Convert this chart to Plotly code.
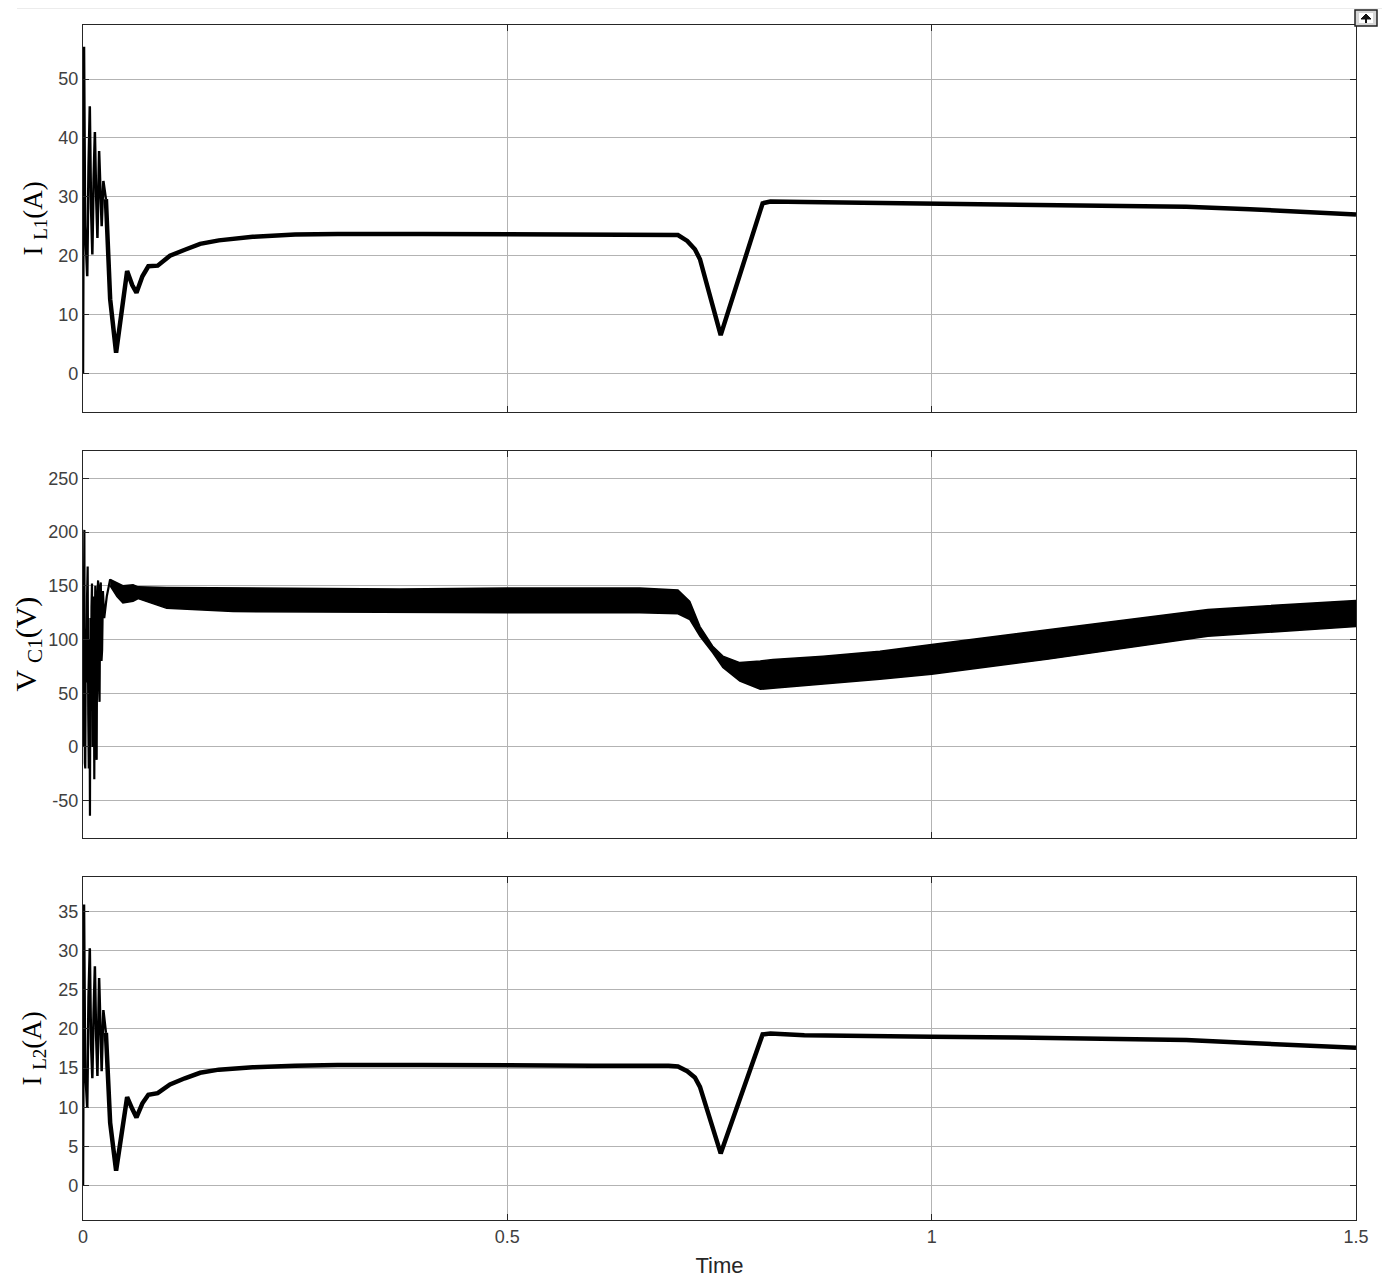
import plotly.graph_objects as go
from plotly.subplots import make_subplots

# ---------------- data ----------------
# I_L1 : initial oscillation
il1_spike_t = [0.0, 0.0012, 0.0025, 0.005, 0.0065, 0.008, 0.0095, 0.011, 0.0125, 0.014,
               0.0155, 0.017, 0.019, 0.0205, 0.022, 0.024, 0.027]
il1_spike = [0.0, 55.5, 25.0, 16.5, 35.0, 45.4, 28.0, 20.2, 33.0, 41.0,
             30.0, 23.0, 37.8, 30.0, 25.0, 32.7, 29.6]
# I_L1 : remaining trace
il1_t = [0.027, 0.032, 0.039, 0.045, 0.052, 0.058, 0.063, 0.070, 0.077, 0.088, 0.1025,
         0.12, 0.138, 0.16, 0.20, 0.25, 0.30, 0.40, 0.50, 0.60, 0.69, 0.701, 0.712,
         0.721, 0.727, 0.7514, 0.8008, 0.81, 0.85, 0.90, 1.0, 1.1, 1.2, 1.3,
         1.375, 1.45, 1.5]
il1 = [29.6, 12.6, 3.5, 10.5, 17.4, 15.0, 13.7, 16.5, 18.2, 18.3, 20.0,
       21.0, 22.0, 22.6, 23.2, 23.6, 23.7, 23.7, 23.6, 23.6, 23.6, 23.5, 22.5,
       21.1, 19.4, 6.5, 28.9, 29.2, 29.1, 29.0, 28.8, 28.7, 28.5, 28.3,
       27.9, 27.4, 27.0]

# V_C1 : initial oscillation
vc1_spike_t = [0.0, 0.0008, 0.0016, 0.0022, 0.0027, 0.0033, 0.004, 0.0048, 0.0055, 0.0062,
               0.0068, 0.0075, 0.0082, 0.0088, 0.0095, 0.01, 0.0106, 0.0113, 0.012, 0.0127,
               0.0133, 0.014, 0.0145, 0.0152, 0.0161, 0.0168, 0.0178, 0.0186, 0.0195,
               0.0203, 0.021, 0.0218, 0.0225, 0.0235, 0.025, 0.028, 0.032]
vc1_spike = [0.0, 120.0, 202.0, -15.0, -20.0, 110.0, 60.0, 140.0, 168.0, 30.0,
             -20.0, 100.0, -64.0, 120.0, 50.0, 130.0, 152.0, 0.0, 20.0, 140.0,
             -30.0, 120.0, 150.0, 10.0, -12.0, 140.0, 155.0, 60.0, 42.0,
             150.0, 153.0, 80.0, 90.0, 145.0, 120.0, 140.0, 156.0]
# V_C1 : ripple band (upper / lower envelopes)
vc1_t = [0.032, 0.040, 0.047, 0.059, 0.065, 0.0986, 0.177, 0.373, 0.50, 0.656, 0.701,
         0.715, 0.727, 0.742, 0.754, 0.774, 0.798, 0.813, 0.872, 0.939, 1.0, 1.1355,
         1.3255, 1.5]
vc1_upper = [156.0, 153.0, 150.0, 151.0, 149.0, 148.5, 148.0, 147.0, 148.0, 148.0, 146.0,
             135.5, 112.0, 93.8, 84.5, 78.5, 80.0, 81.5, 84.5, 89.0, 95.4, 109.0,
             128.0, 136.4]
vc1_lower = [150.0, 140.0, 134.0, 135.5, 138.0, 129.0, 126.0, 125.0, 125.0, 125.0, 124.0,
             118.5, 103.0, 87.7, 74.0, 61.4, 53.7, 54.6, 58.3, 63.0, 67.6, 81.5,
             103.0, 112.0]

# I_L2 : initial oscillation
il2_spike_t = [0.0, 0.0012, 0.0025, 0.005, 0.0065, 0.008, 0.0095, 0.011, 0.0125, 0.014,
               0.0155, 0.017, 0.019, 0.0205, 0.022, 0.024, 0.027]
il2_spike = [0.0, 35.9, 15.0, 9.9, 24.0, 30.3, 18.0, 13.7, 22.0, 28.0,
             19.0, 14.0, 26.5, 19.0, 14.6, 22.4, 19.5]
# I_L2 : remaining trace
il2_t = [0.027, 0.032, 0.039, 0.045, 0.052, 0.058, 0.063, 0.070, 0.077, 0.088, 0.1025,
         0.12, 0.138, 0.16, 0.20, 0.25, 0.30, 0.40, 0.50, 0.60, 0.69, 0.701, 0.712,
         0.721, 0.727, 0.7514, 0.8008, 0.81, 0.85, 0.90, 1.0, 1.1, 1.2, 1.3,
         1.375, 1.45, 1.5]
il2 = [19.5, 8.0, 1.9, 6.0, 11.3, 9.8, 8.7, 10.5, 11.6, 11.8, 12.9,
       13.7, 14.4, 14.8, 15.1, 15.3, 15.4, 15.4, 15.3, 15.3, 15.3, 15.2, 14.6,
       13.8, 12.6, 4.1, 19.3, 19.4, 19.2, 19.1, 19.0, 18.9, 18.8, 18.6,
       18.2, 17.9, 17.6]

x_ticks = [0, 0.5, 1, 1.5]
x_tick_text = ["0", "0.5", "1", "1.5"]
y1_ticks = [0, 10, 20, 30, 40, 50]
y2_ticks = [-50, 0, 50, 100, 150, 200, 250]
y3_ticks = [0, 5, 10, 15, 20, 25, 30, 35]
y_titles = ["I <sub>L1</sub>(A)", "V <sub>C1</sub>(V)", "I <sub>L2</sub>(A)"]

# ---------------- figure ----------------
OFF = 8                       # default page (body) margin of the html page
W, H = 1390 - OFF, 1278 - OFF
ML, MT = 83 - OFF, 25 - OFF
MR = W - (1356 - OFF)
MB = H - (1220 - OFF)
PW, PH = W - ML - MR, H - MT - MB

def px_y(py):                 # page pixel -> paper y
    return (H - MB - (py - OFF)) / PH

def px_x(px):                 # page pixel -> paper x
    return (px - OFF - ML) / PW

fig = make_subplots(rows=3, cols=1, shared_xaxes=True, vertical_spacing=0.03)

BLACK = "#000000"
fig.add_trace(go.Scatter(x=il1_spike_t, y=il1_spike, mode="lines",
                         line=dict(color=BLACK, width=2.5), showlegend=False), row=1, col=1)
fig.add_trace(go.Scatter(x=il1_t, y=il1, mode="lines",
                         line=dict(color=BLACK, width=4.5), showlegend=False), row=1, col=1)

fig.add_trace(go.Scatter(x=vc1_spike_t, y=vc1_spike, mode="lines",
                         line=dict(color=BLACK, width=2.2), showlegend=False), row=2, col=1)
fig.add_trace(go.Scatter(x=vc1_t, y=vc1_upper, mode="lines",
                         line=dict(color=BLACK, width=1.5), showlegend=False), row=2, col=1)
fig.add_trace(go.Scatter(x=vc1_t, y=vc1_lower, mode="lines", fill="tonexty",
                         fillcolor=BLACK,
                         line=dict(color=BLACK, width=1.5), showlegend=False), row=2, col=1)

fig.add_trace(go.Scatter(x=il2_spike_t, y=il2_spike, mode="lines",
                         line=dict(color=BLACK, width=2.5), showlegend=False), row=3, col=1)
fig.add_trace(go.Scatter(x=il2_t, y=il2, mode="lines",
                         line=dict(color=BLACK, width=4.5), showlegend=False), row=3, col=1)

domains = [
    [px_y(412), px_y(25)],
    [px_y(838), px_y(451)],
    [px_y(1220), px_y(877)],
]
ranges = [[-6.57, 59.2], [-84.7, 275.4], [-4.4, 39.4]]
ytick_sets = [y1_ticks, y2_ticks, y3_ticks]

axis_common = dict(
    showline=True, linecolor="#262626", linewidth=1.2, mirror="ticks",
    ticks="inside", ticklen=6, tickcolor="#262626", tickwidth=1.2,
    showgrid=True, gridcolor="#b3b3b3", gridwidth=1, zeroline=False,
    tickfont=dict(family="Liberation Sans, Arial, sans-serif", size=18, color="#404040"),
)

for i in range(3):
    fig.update_yaxes(domain=domains[i], range=ranges[i], tickvals=ytick_sets[i],
                     ticktext=[str(v) for v in ytick_sets[i]], **axis_common, row=i + 1, col=1)
    fig.update_xaxes(range=[0, 1.5], tickvals=x_ticks, ticktext=x_tick_text,
                     showticklabels=(i == 2), **axis_common, row=i + 1, col=1)

fig.update_xaxes(title=dict(text="Time", standoff=12,
                            font=dict(family="Liberation Sans, Arial, sans-serif", size=22, color="#262626")),
                 row=3, col=1)

title_x = [35, 27, 33]
title_size = [27, 30, 27]
for i in range(3):
    fig.add_annotation(text=y_titles[i], xref="paper", yref="paper",
                       x=px_x(title_x[i]), y=(domains[i][0] + domains[i][1]) / 2,
                       xanchor="center", yanchor="middle", textangle=-90, showarrow=False,
                       font=dict(family="Liberation Serif, Times New Roman, serif",
                                 size=title_size[i], color=BLACK))

# toolbar separator line and the small scope icon at the top-right
shapes = [
    dict(type="line", xref="paper", yref="paper", x0=px_x(17), x1=px_x(1390),
         y0=px_y(8), y1=px_y(8), line=dict(color="#e6e6e6", width=1.5), layer="above"),
    dict(type="rect", xref="paper", yref="paper", x0=px_x(1355), x1=px_x(1377),
         y0=px_y(26), y1=px_y(10), line=dict(color="#222222", width=1.5),
         fillcolor="#d6d6d6", layer="above"),
    dict(type="rect", xref="paper", yref="paper", x0=px_x(1359), x1=px_x(1373),
         y0=px_y(23), y1=px_y(13), line=dict(color="#ffffff", width=0),
         fillcolor="#ffffff", layer="above"),
    dict(type="path", xref="paper", yref="paper",
         path="M {} {} L {} {} L {} {} Z".format(px_x(1361), px_y(19), px_x(1366), px_y(14),
                                                 px_x(1371), px_y(19)),
         line=dict(color="#111111", width=1), fillcolor="#111111", layer="above"),
    dict(type="line", xref="paper", yref="paper", x0=px_x(1366), x1=px_x(1366),
         y0=px_y(23), y1=px_y(17), line=dict(color="#111111", width=2), layer="above"),
]

fig.update_layout(
    width=W, height=H,
    margin=dict(l=ML, r=MR, t=MT, b=MB, autoexpand=False),
    paper_bgcolor="white", plot_bgcolor="white",
    showlegend=False, shapes=shapes,
)

fig.write_html("out.html")
